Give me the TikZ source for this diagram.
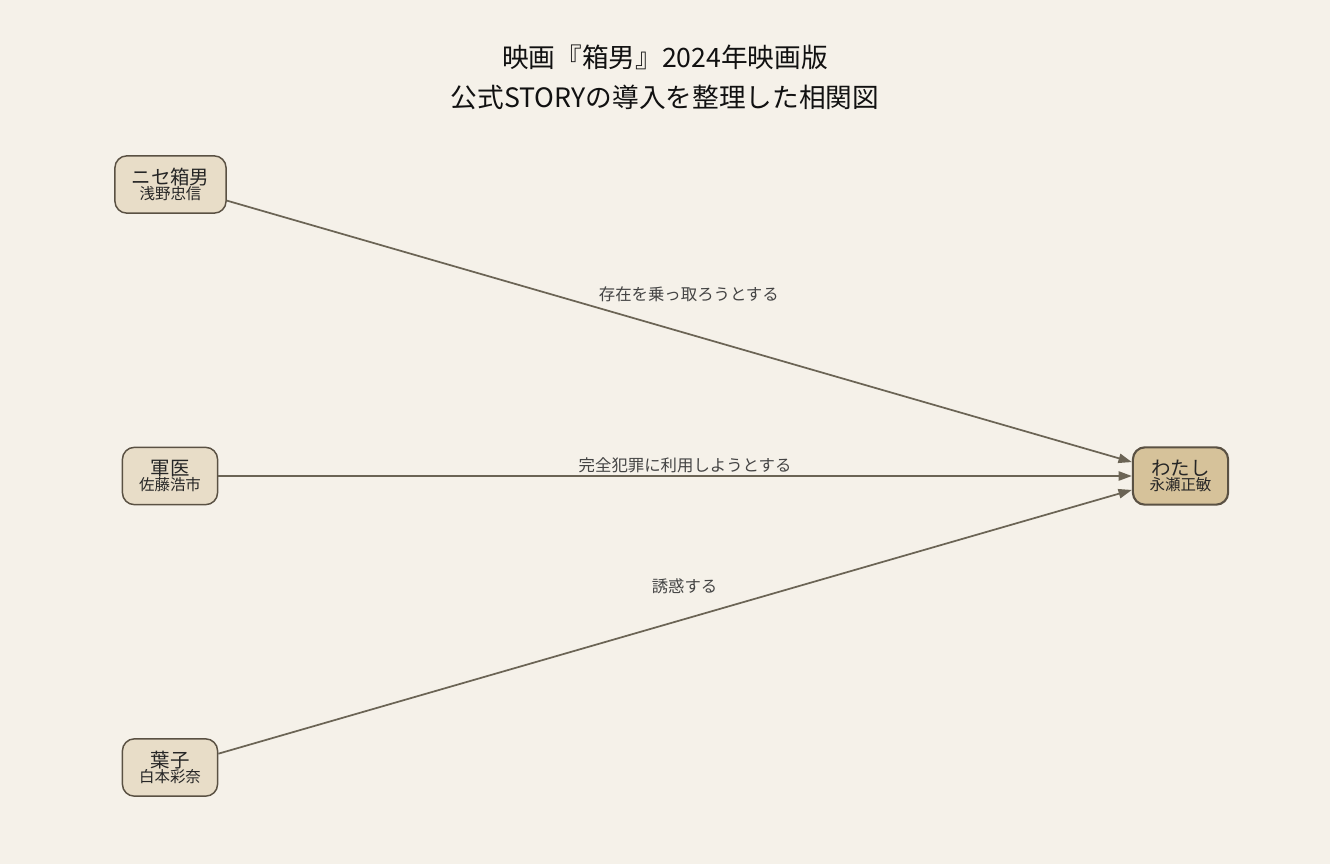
\documentclass[tikz,border=0pt]{standalone}
\usepackage{fontspec}
\setmainfont{Noto Sans CJK JP}
\usetikzlibrary{arrows.meta}
\definecolor{bgc}{HTML}{F5F1E9}
\definecolor{nodefill}{HTML}{E8DDC8}
\definecolor{mefill}{HTML}{D6C29A}
\definecolor{border}{HTML}{5A5143}
\definecolor{edgec}{HTML}{6B6455}
\definecolor{lblc}{HTML}{444444}
\definecolor{titlec}{HTML}{111111}
\tikzset{
  person/.style={draw=border, line width=1.1pt, fill=nodefill, rounded corners=9pt,
    align=center, inner xsep=12.5pt, inner ysep=0pt, minimum height=43pt, minimum width=70pt, text=black!85},
  mebox/.style={person, fill=mefill, line width=1.6pt},
  rel/.style={draw=edgec, line width=1.3pt, -{Triangle[length=10pt,width=7pt]}},
  lbl/.style={font=\fontsize{12.3}{14}\selectfont, text=lblc, inner sep=0pt},
  ttl/.style={font=\fontsize{20}{30}\selectfont, text=titlec, align=center, inner sep=0pt}
}
\newcommand{\pname}[2]{{\fontsize{14.6}{14}\selectfont #1}\\[-0.5pt]{\fontsize{11.6}{12}\selectfont #2}}
\begin{document}
\begin{tikzpicture}[x=0.75pt,y=-0.75pt]
\fill[bgc] (0,0) rectangle (1330,864);
\useasboundingbox (0,0) rectangle (1330,864);
\node[ttl] (title) at (665,77) {映画『箱男』2024年映画版\\公式STORYの導入を整理した相関図};
\node[person] (nise) at (170.5,184.5) {\pname{ニセ箱男}{浅野忠信}};
\node[person] (gun) at (170,476) {\pname{軍医}{佐藤浩市}};
\node[person] (yoko) at (170,767.5) {\pname{葉子}{白本彩奈}};
\node[mebox] (me) at (1180.5,476) {\pname{わたし}{永瀬正敏}};
\draw[rel] (nise) -- (me) node[lbl, midway, xshift=7.1pt, yshift=27.75pt] (l1) {存在を乗っ取ろうとする};
\draw[rel] (gun) -- (me) node[lbl, midway, xshift=7.5pt, yshift=8.25pt] (l2) {完全犯罪に利用しようとする};
\draw[rel] (yoko) -- (me) node[lbl, midway, xshift=7.1pt, yshift=27pt] (l3) {誘惑する};
\end{tikzpicture}
\end{document}
